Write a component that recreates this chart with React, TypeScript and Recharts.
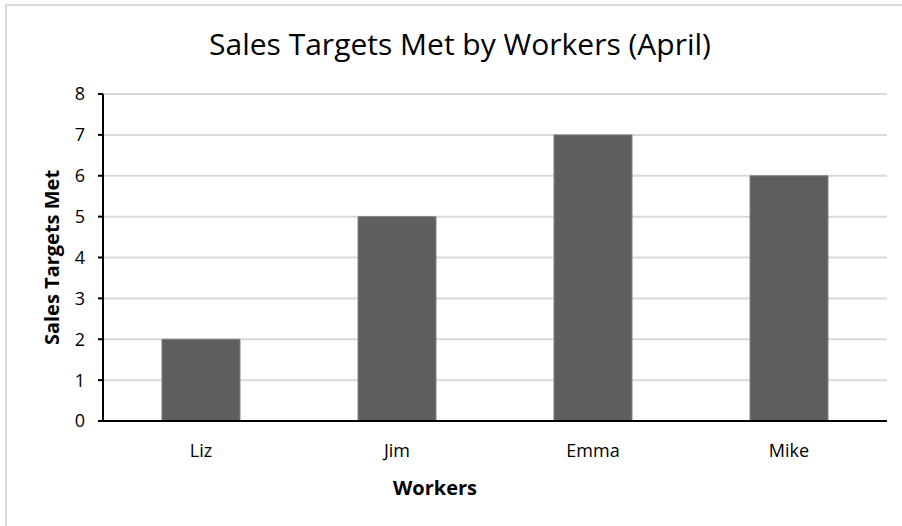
import React from 'react';
import { BarChart, Bar, XAxis, YAxis, CartesianGrid, Label } from 'recharts';

const workers = ['Liz', 'Jim', 'Emma', 'Mike'];
const targetsMet = [2, 5, 7, 6];
const yTicks = [0, 1, 2, 3, 4, 5, 6, 7, 8];

const data = workers.map((name, i) => ({ name, met: targetsMet[i] }));

const font = '"Open Sans", sans-serif';

export default function App() {
  return (
    <div style={{ position: 'absolute', left: 0, top: 0, width: 902, height: 526, background: '#fff', fontFamily: font }}>
      <div style={{ position: 'absolute', left: 5, top: 4, width: 897, height: 2, background: '#d9d9d9' }} />
      <div style={{ position: 'absolute', left: 5, top: 4, width: 2, height: 522, background: '#d9d9d9' }} />
      <div style={{ position: 'absolute', left: 0, top: 23, width: 920, textAlign: 'center', fontSize: 30, color: '#000', lineHeight: '42px' }}>
        Sales Targets Met by Workers (April)
      </div>
      <BarChart width={902} height={526} data={data} margin={{ top: 94, right: 15, left: 0, bottom: 0 }}>
        <CartesianGrid vertical={false} stroke="#d9d9d9" strokeWidth={2} />
        <XAxis
          dataKey="name"
          height={105}
          tickLine={false}
          axisLine={{ stroke: '#000', strokeWidth: 2 }}
          tickSize={6}
          tickMargin={17}
          tick={{ fontSize: 18, fill: '#000', fontFamily: font }}
        >
          <Label value="Workers" position="center" dx={-60} dy={14} style={{ fontSize: 20, fontWeight: 700, fill: '#000', fontFamily: font }} />
        </XAxis>
        <YAxis
          width={103}
          domain={[0, 8]}
          ticks={yTicks}
          interval={0}
          tickSize={5}
          tickMargin={13}
          tickLine={{ stroke: '#000', strokeWidth: 2 }}
          axisLine={{ stroke: '#000', strokeWidth: 2 }}
          tick={{ fontSize: 18, fill: '#000', fontFamily: font }}
        >
          <Label value="Sales Targets Met" angle={-90} position="center" style={{ fontSize: 20, fontWeight: 700, fill: '#000', fontFamily: font, textAnchor: 'middle' }} />
        </YAxis>
        <Bar dataKey="met" fill="#5e5e5e" stroke="#808080" strokeWidth={1} barSize={78} isAnimationActive={false} />
      </BarChart>
    </div>
  );
}
